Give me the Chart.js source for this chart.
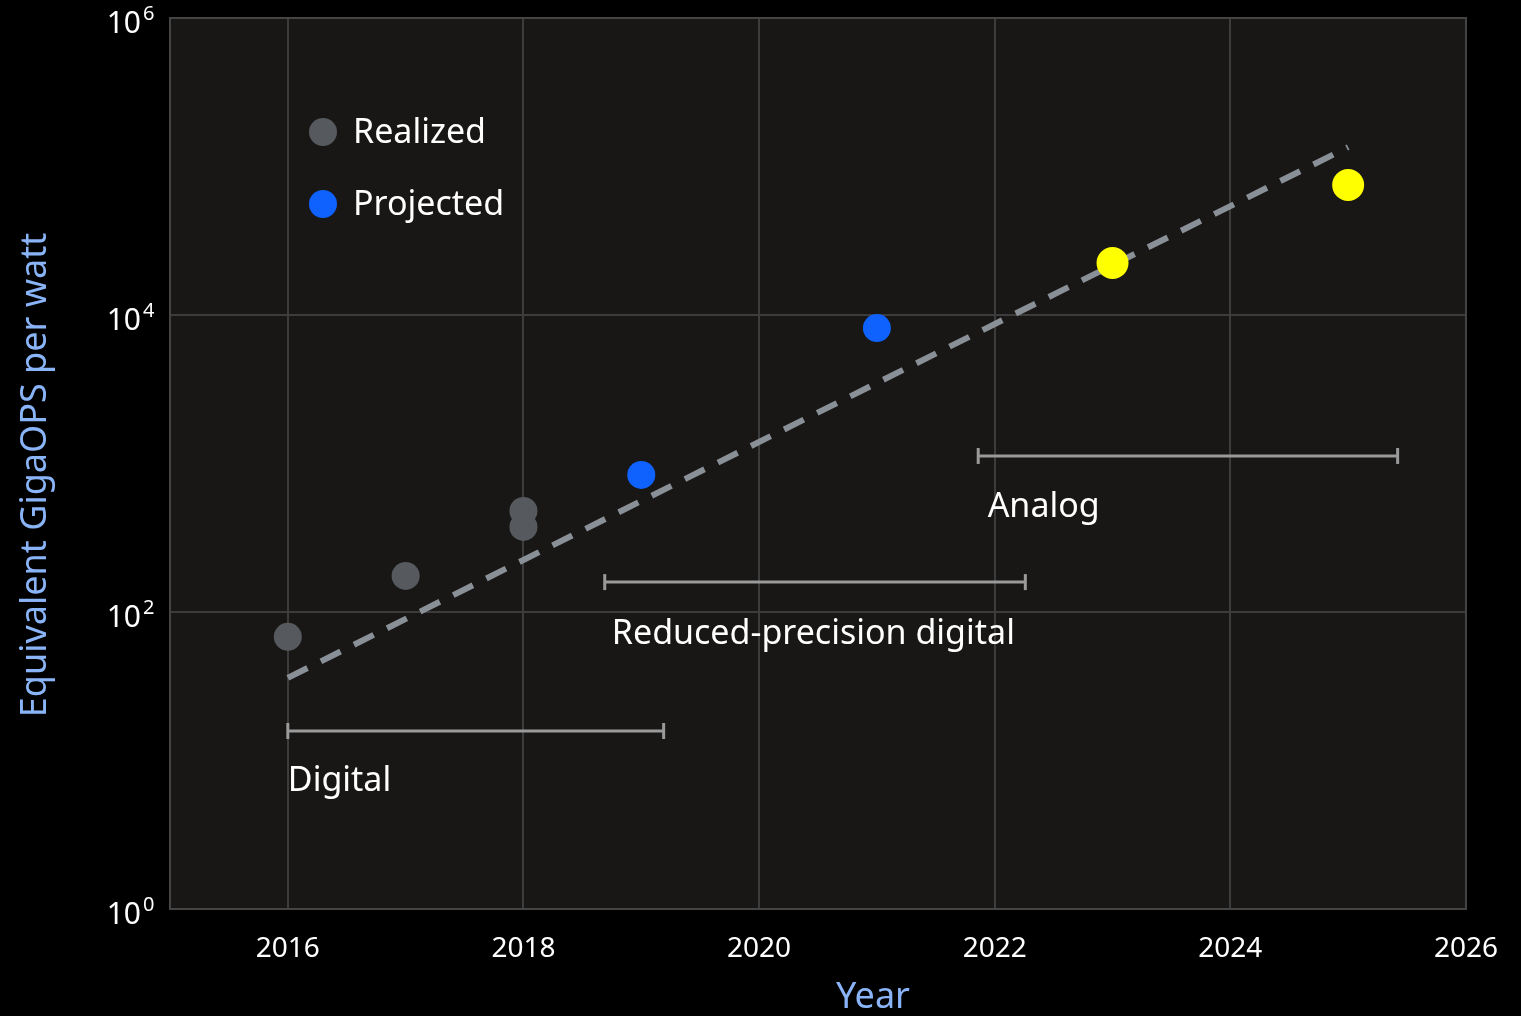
<!DOCTYPE html>
<html>
<head>
<meta charset="utf-8">
<script src="https://cdn.jsdelivr.net/npm/chart.js@4.4.1/dist/chart.umd.min.js"></script>
<style>
  html, body { margin: 0; padding: 0; background: #000; }
  #wrap { width: 1521px; height: 1016px; }
</style>
</head>
<body>
<div id="wrap"><canvas id="chart"></canvas></div>
<script>
// data
const realizedYears = [2016, 2017, 2018, 2018];
const realizedValues = [68, 175, 479, 374];
const projectedYears = [2019, 2021];
const projectedValues = [837, 8170];
const analogYears = [2023, 2025];
const analogValues = [22400, 75000];
const trendYears = [2016, 2025];
const trendValues = [36, 135000];

// eras: start year, end year, level, label position
const eraNames = ['Digital', 'Reduced-precision digital', 'Analog'];
const eraStart = [2016, 2018.69, 2021.86];
const eraEnd = [2019.19, 2022.26, 2025.42];
const eraLevel = [15.8, 159, 1124];
const eraLabelYear = [2016, 2018.75, 2021.94];
const eraLabelLevel = [7.2, 71, 505];

const xTicks = [2016, 2018, 2020, 2022, 2024, 2026];
const yExponents = [0, 2, 4, 6];

const font = '"Noto Sans", "Open Sans", sans-serif';

function pts(xs, ys) {
    return xs.map((x, i) => ({ x: x, y: ys[i] }));
}

const datasets = [
    {
        label: 'Realized',
        data: pts(realizedYears, realizedValues),
        backgroundColor: '#565a5f',
        pointRadius: 14,
        pointHoverRadius: 14,
        borderWidth: 0,
        showLine: false
    },
    {
        label: 'Projected',
        data: pts(projectedYears, projectedValues),
        backgroundColor: '#0f62fe',
        pointRadius: 14,
        pointHoverRadius: 14,
        borderWidth: 0,
        showLine: false
    },
    {
        label: 'Analog',
        data: pts(analogYears, analogValues),
        backgroundColor: '#ffff00',
        pointRadius: 16,
        pointHoverRadius: 16,
        borderWidth: 0,
        showLine: false
    },
    {
        label: 'Trend',
        data: pts(trendYears, trendValues),
        showLine: true,
        borderColor: '#8a9097',
        borderWidth: 6,
        borderDash: [22, 15],
        pointRadius: 0,
        order: 5
    }
];

// era range bars with end caps
eraNames.forEach((name, i) => {
    datasets.push({
        label: name,
        data: [{ x: eraStart[i], y: eraLevel[i] }, { x: eraEnd[i], y: eraLevel[i] }],
        showLine: true,
        borderColor: '#9a9a9a',
        borderWidth: 3,
        pointStyle: 'line',
        rotation: 90,
        pointRadius: 8,
        pointBorderColor: '#9a9a9a',
        pointBorderWidth: 3,
        order: 6
    });
});

// plot background, y tick labels with superscripts, legend, era labels, titles
const decor = {
    id: 'decor',
    beforeDraw(chart) {
        const { ctx, chartArea: a } = chart;
        ctx.save();
        ctx.fillStyle = '#181716';
        ctx.fillRect(a.left, a.top, a.right - a.left, a.bottom - a.top);
        ctx.restore();
    },
    afterDraw(chart) {
        const { ctx, chartArea: a, scales } = chart;
        ctx.save();
        ctx.strokeStyle = '#444';
        ctx.lineWidth = 2;
        ctx.strokeRect(a.left, a.top, a.right - a.left, a.bottom - a.top);

        // y tick labels 10^n
        ctx.fillStyle = '#ffffff';
        ctx.textBaseline = 'alphabetic';
        yExponents.forEach(e => {
            const py = scales.y.getPixelForValue(Math.pow(10, e));
            ctx.font = '30px ' + font;
            ctx.textAlign = 'right';
            ctx.fillText('10', 141, py + 15);
            ctx.font = '20px ' + font;
            ctx.textAlign = 'left';
            ctx.fillText(String(e), 143, py + 2);
        });

        // legend
        const items = [['Realized', '#565a5f', 132], ['Projected', '#0f62fe', 204]];
        ctx.font = '34px ' + font;
        ctx.textBaseline = 'middle';
        items.forEach(it => {
            ctx.fillStyle = it[1];
            ctx.beginPath();
            ctx.arc(323, it[2], 14, 0, Math.PI * 2);
            ctx.fill();
            ctx.fillStyle = '#ffffff';
            ctx.fillText(it[0], 353, it[2] + 1);
        });

        // era labels
        ctx.fillStyle = '#ffffff';
        eraNames.forEach((name, i) => {
            ctx.fillText(name, scales.x.getPixelForValue(eraLabelYear[i]), scales.y.getPixelForValue(eraLabelLevel[i]));
        });

        // axis titles
        ctx.font = '36px ' + font;
        ctx.fillStyle = '#8ab4f8';
        ctx.textAlign = 'center';
        ctx.fillText('Year', 873, 998);
        ctx.translate(36, 475);
        ctx.rotate(-Math.PI / 2);
        ctx.fillText('Equivalent GigaOPS per watt', 0, 0);
        ctx.restore();
    }
};

new Chart(document.getElementById('chart'), {
    type: 'scatter',
    data: { datasets: datasets },
    options: {
        responsive: true,
        maintainAspectRatio: false,
        animation: false,
        layout: { padding: { top: 18, right: 54, left: 0, bottom: 0 } },
        plugins: {
            legend: { display: false },
            tooltip: { enabled: false }
        },
        scales: {
            x: {
                type: 'linear',
                min: 2015,
                max: 2026,
                afterBuildTicks(scale) {
                    scale.ticks = xTicks.map(v => ({ value: v }));
                },
                afterFit(scale) { scale.height = 107; },
                ticks: {
                    color: '#ffffff',
                    font: { family: font, size: 28 },
                    padding: 23,
                    maxRotation: 0,
                    callback: v => String(v)
                },
                grid: { color: '#3c3c3c', lineWidth: 2, drawTicks: false },
                border: { display: false }
            },
            y: {
                type: 'logarithmic',
                min: 1,
                max: 1000000,
                afterBuildTicks(scale) {
                    scale.ticks = yExponents.map(e => ({ value: Math.pow(10, e) }));
                },
                afterFit(scale) { scale.width = 170; },
                ticks: { display: false },
                grid: { color: '#3c3c3c', lineWidth: 2, drawTicks: false },
                border: { display: false }
            }
        }
    },
    plugins: [decor]
});
</script>
</body>
</html>
